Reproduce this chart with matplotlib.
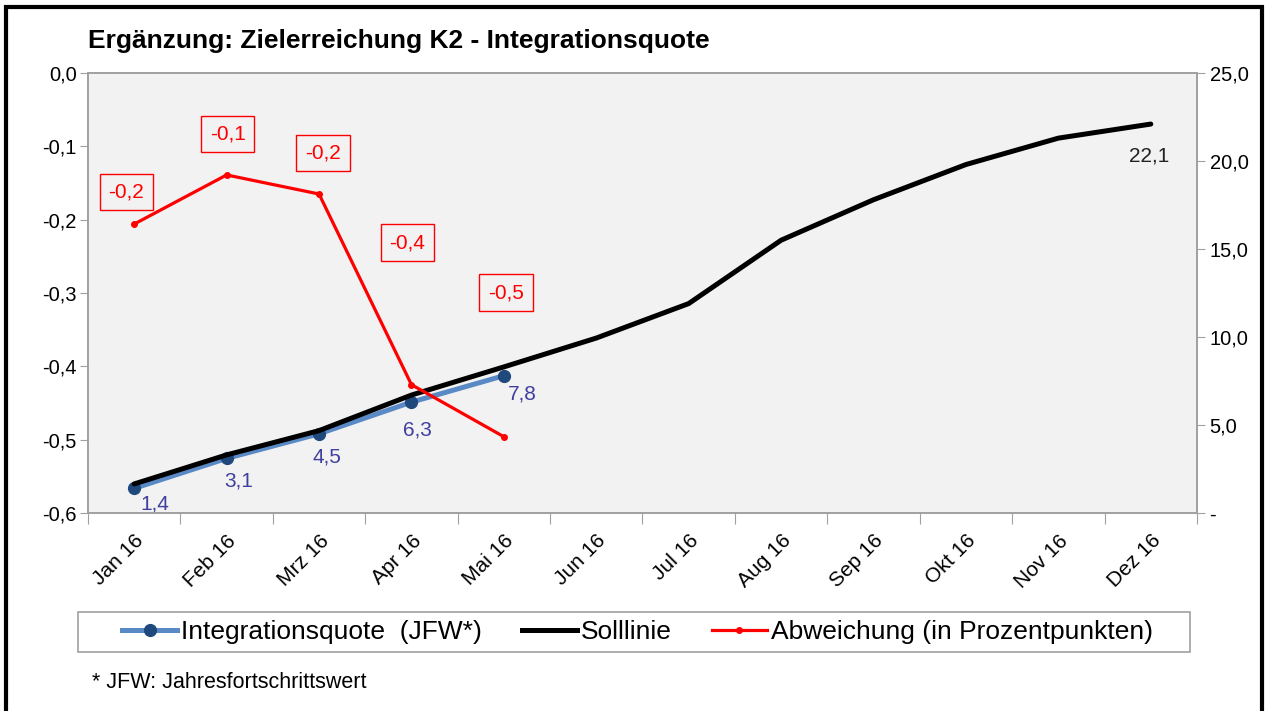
import numpy as np
import matplotlib
matplotlib.use("Agg")
import matplotlib.pyplot as plt
from matplotlib.patches import Rectangle
from matplotlib.lines import Line2D
from matplotlib.ticker import FuncFormatter

plt.rcParams["font.family"] = ["Liberation Sans", "DejaVu Sans"]

# data
months = ["Jan 16", "Feb 16", "Mrz 16", "Apr 16", "Mai 16", "Jun 16",
          "Jul 16", "Aug 16", "Sep 16", "Okt 16", "Nov 16", "Dez 16"]
integrationsquote = [1.4, 3.1, 4.5, 6.3, 7.8]
solllinie = [1.65, 3.3, 4.68, 6.7, 8.3, 9.94, 11.9, 15.5, 17.8, 19.8, 21.3, 22.1]
abweichung = [-0.206, -0.139, -0.165, -0.425, -0.496]

title = "Ergänzung: Zielerreichung K2 - Integrationsquote"
footnote = "* JFW: Jahresfortschrittswert"

# label offsets in pixels (manually placed like in the original)
red_offsets = [(-8, 32), (1, 41), (4, 41), (-4, 142), (2, 144)]
blue_offsets = [(21, -16), (12, -23), (8, -23), (6, -28), (18, -18)]

def de_fmt(v):
    v = round(v, 1) + 0.0
    if abs(v) < 1e-9:
        v = 0.0
    return f"{v:.1f}".replace(".", ",")

grey = "#A0A0A0"
blue = "#5A8AC6"
navy = "#1F497D"
lblue = "#3F3F9F"

fig = plt.figure(figsize=(12.66, 7.11), dpi=100)
ax = fig.add_axes([0.0695, 0.2785, 0.876, 0.6188])
ax2 = ax.twinx()

x_all = np.arange(len(months))
x_ist = np.arange(len(integrationsquote))

ax.set_facecolor("#F2F2F2")
ax.plot(x_ist, integrationsquote, color=blue, lw=3.6, marker="o", ms=8.5,
        mfc=navy, mec=navy, zorder=2)
ax.plot(x_all, solllinie, color="black", lw=3.6, zorder=3, solid_capstyle="round")
ax2.plot(x_ist, abweichung, color="red", lw=2.3, marker="o", ms=4, zorder=4)

# right scale (primary axis) 0..25
ax.set_ylim(0, 25)
ax.set_yticks(np.arange(0, 26, 5))
ax.yaxis.tick_right()
ax.yaxis.set_major_formatter(FuncFormatter(lambda v, p: "-" if v == 0 else de_fmt(v)))
ax.tick_params(axis="y", length=6, color=grey, labelsize=14.5, pad=3)

# left scale (twin) -0.6..0
ax2.set_ylim(-0.6, 0)
ax2.set_yticks(np.arange(-0.6, 0.01, 0.1))
ax2.yaxis.tick_left()
ax2.yaxis.set_major_formatter(FuncFormatter(lambda v, p: de_fmt(v)))
ax2.tick_params(axis="y", length=6, color=grey, labelsize=14.5, pad=2)

ax.set_xlim(-0.5, len(months) - 0.5)
ax.set_xticks(np.arange(-0.5, len(months), 1))
ax.set_xticklabels([])
ax.set_xticks(x_all, minor=True)
ax.set_xticklabels(months, minor=True, rotation=45, ha="right",
                   rotation_mode="anchor", fontsize=15)
ax.tick_params(axis="x", which="major", length=8, color=grey)
ax.tick_params(axis="x", which="minor", length=0, pad=13)

for a in (ax, ax2):
    for s in a.spines.values():
        s.set_color(grey)
        s.set_linewidth(1.2)

# data labels
for i, v in enumerate(abweichung):
    ax2.annotate(de_fmt(v), (x_ist[i], v), xytext=red_offsets[i],
                 textcoords="offset pixels", ha="center", va="center",
                 color="red", fontsize=15,
                 bbox=dict(boxstyle="square,pad=0.42", fc="none", ec="red", lw=1))
for i, v in enumerate(integrationsquote):
    ax.annotate(de_fmt(v), (x_ist[i], v), xytext=blue_offsets[i],
                textcoords="offset pixels", ha="center", va="center",
                color=lblue, fontsize=15)
ax.annotate(de_fmt(solllinie[-1]), (x_all[-1], solllinie[-1]), xytext=(-2, -32),
            textcoords="offset pixels", ha="center", va="center",
            color="#222222", fontsize=15)

# title and footnote
fig.text(0.0695, 0.9423, title, fontsize=19, fontweight="bold", va="center")
fig.text(0.0727, 0.0394, footnote, fontsize=15.5, va="center")

# legend
handles = [
    Line2D([], [], color=blue, lw=3.6, marker="o", ms=8.5, mfc=navy, mec=navy),
    Line2D([], [], color="black", lw=3.6),
    Line2D([], [], color="red", lw=2.3, marker="o", ms=4),
]
labels = ["Integrationsquote  (JFW*)", "Solllinie", "Abweichung (in Prozentpunkten)"]
fig.legend(handles, labels, loc="center", bbox_to_anchor=(0.5036, 0.111), ncol=3,
           frameon=False, fontsize=19, handlelength=2.1, handletextpad=0.15,
           columnspacing=1.5)
fig.patches.append(Rectangle((0.0616, 0.083), 0.878, 0.0563, transform=fig.transFigure,
                             fill=False, ec=grey, lw=1.2))

# outer border
fig.patches.append(Rectangle((0.005, -0.02), 0.9918, 1.01, transform=fig.transFigure,
                             fill=False, ec="black", lw=3))

fig.savefig("out.png", dpi=100)
